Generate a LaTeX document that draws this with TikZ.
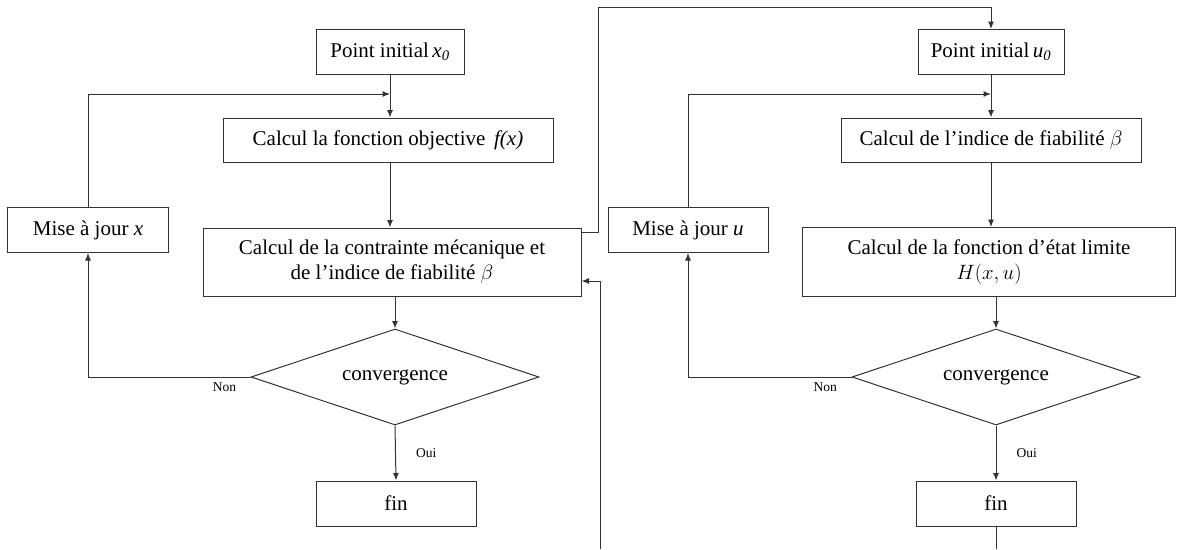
\documentclass[tikz,border=0pt]{standalone}
\usepackage{fontspec}
\setmainfont{Liberation Serif}
\newfontfamily\tnr{Liberation Serif}
\usetikzlibrary{shapes.geometric,arrows.meta}
\begin{document}
\begin{tikzpicture}[x=1pt,y=-1pt,
  every node/.style={font=\tnr\fontsize{21}{25}\selectfont},
  box/.style={draw=black!80, line width=1pt, rectangle, inner sep=0pt, align=center},
  dia/.style={draw=black!80, line width=1pt, diamond, inner sep=0pt, aspect=3, minimum width=288pt, minimum height=96pt},
  lbl/.style={font=\tnr\fontsize{13.5}{16}\selectfont, inner sep=2pt},
  conn/.style={draw=black!80, line width=1pt},
  arr/.style={conn, -{Latex[length=7.5pt,width=6pt]}}
]
\useasboundingbox (0,0) rectangle (1177,549);
% ---------------- left column
\node[box, minimum width=148pt, minimum height=45pt] (p0) at (390,52) {Point initial\,\textit{x}\textsubscript{\textit{0}}};
\coordinate (j1) at (390,94);
\node[box, minimum width=330pt, minimum height=44pt] (f) at (388,140) {Calcul la fonction objective\, \textit{f(x)}};
\node[box, minimum width=378pt, minimum height=68pt] (c) at (392,262) {Calcul de la contrainte mécanique et\\de l’indice de fiabilité $\beta$};
\node[box, minimum width=161pt, minimum height=45pt] (mx) at (88,230) {Mise à jour \textit{x}};
\node[dia] (d) at (395,377) {convergence};
\node[box, minimum width=160pt, minimum height=45pt] (fin) at (396,503.5) {fin};
\draw[arr] (p0.south) -- (p0.south |- f.north);
\draw[arr] (mx.north) |- (j1);
\draw[arr] (f.south -| p0.south) -- (p0.south |- c.north);
\draw[arr] (c.south -| d.north) -- (d.north);
\draw[arr] (d.south) -- node[lbl, right=18pt, pos=0.5] {Oui} (fin.north);
\draw[arr] (d.west) -- node[lbl, below=3pt, pos=0.16] {Non} (d.west -| mx.south) -- (mx.south);
% ---------------- right column
\node[box, minimum width=146pt, minimum height=45pt] (p0u) at (991,52) {Point initial\,\textit{u}\textsubscript{\textit{0}}};
\coordinate (j2) at (991,94);
\node[box, minimum width=300pt, minimum height=44pt] (ind) at (991,140) {Calcul de l’indice de fiabilité $\beta$};
\node[box, minimum width=373pt, minimum height=69pt] (e) at (989,262) {Calcul de la fonction d’état limite\\$H(x,u)$};
\node[box, minimum width=160pt, minimum height=45pt] (mu) at (688,230) {Mise à jour \textit{u}};
\node[dia] (d2) at (996,377) {convergence};
\node[box, minimum width=160pt, minimum height=45pt] (fin2) at (996,503.5) {fin};
\coordinate (bot2) at (996,549);
\draw[arr] (p0u.south) -- (ind.north);
\draw[arr] (mu.north) |- (j2);
\draw[arr] (ind.south) -- (ind.south |- e.north);
\draw[arr] (e.south -| d2.north) -- (d2.north);
\draw[arr] (d2.south) -- node[lbl, right=18pt, pos=0.5] {Oui} (fin2.north);
\draw[arr] (d2.west) -- node[lbl, below=3pt, pos=0.16] {Non} (d2.west -| mu.south) -- (mu.south);
\draw[conn] (fin2.south) -- (bot2);
% ---------------- links between the two halves
\coordinate (up1) at (598,7);
\coordinate (bot1) at (600,549);
\draw[arr] (c.north east |- 0,232) -| (up1) -| (p0u.north);
\draw[arr] (bot1) |- (c.north east |- 0,281);
\end{tikzpicture}
\end{document}
